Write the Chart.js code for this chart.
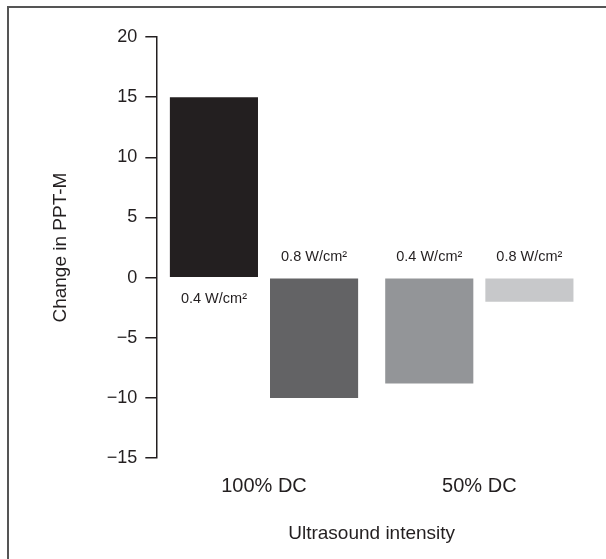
<!DOCTYPE html>
<html lang="en">
<head>
  <meta charset="UTF-8">
  <title>Change in PPT-M</title>
  <script src="https://cdn.jsdelivr.net/npm/chart.js"></script>
  <style>
    body { margin: 0; background: #fff; }
    #frame { position: absolute; left: 7px; top: 6px; width: 599px; height: 553px;
             border-left: 2px solid #555; border-top: 2px solid #555; box-sizing: border-box; }
    #chart { position: absolute; left: 0; top: 0; }
  </style>
</head>
<body>
  <div id="frame"></div>
  <canvas id="chart" width="606" height="559"></canvas>

  <script>
    // data
    const groups = ['100% DC', '50% DC'];
    const intensities = ['0.4 W/cm\u00b2', '0.8 W/cm\u00b2'];
    const low = [15, -8.8];     // 0.4 W/cm2
    const high = [-10, -2];     // 0.8 W/cm2
    const lowColors = ['#231f20', '#939598'];
    const highColors = ['#636365', '#c7c8ca'];
    const yTicks = [-15, -10, -5, 0, 5, 10, 15, 20];

    const ink = '#231f20';
    const font = "'Liberation Sans', Arial, sans-serif";

    // labels at the base of each bar, on the side away from the bar
    const barLabels = {
      id: 'barLabels',
      afterDatasetsDraw(chart) {
        const ctx = chart.ctx;
        ctx.save();
        ctx.font = '14.5px ' + font;
        ctx.fillStyle = ink;
        ctx.textAlign = 'center';
        ctx.textBaseline = 'middle';
        chart.data.datasets.forEach((ds, i) => {
          chart.getDatasetMeta(i).data.forEach((bar, j) => {
            const v = ds.data[j];
            const y = v >= 0 ? bar.base + 22 : bar.base - 21;
            ctx.fillText(ds.label, bar.x, y);
          });
        });
        ctx.restore();
      }
    };

    new Chart(document.getElementById('chart'), {
      type: 'bar',
      data: {
        labels: groups,
        datasets: [
          { label: intensities[0], data: low, backgroundColor: lowColors },
          { label: intensities[1], data: high, backgroundColor: highColors }
        ]
      },
      options: {
        responsive: false,
        animation: false,
        events: [],
        categoryPercentage: 0.93,
        barPercentage: 0.88,
        layout: { padding: { top: 37, right: 19, bottom: 14, left: 49 } },
        plugins: { legend: { display: false }, tooltip: { enabled: false } },
        scales: {
          x: {
            grid: { display: false, drawTicks: false },
            border: { display: false },
            ticks: { color: ink, font: { size: 20, family: font }, padding: 16 },
            title: {
              display: true, text: 'Ultrasound intensity', color: ink,
              font: { size: 19, family: font }, padding: { top: 8, bottom: 0 }
            }
          },
          y: {
            min: -15, max: 20,
            afterBuildTicks(scale) { scale.ticks = yTicks.map(v => ({ value: v })); },
            grid: { drawOnChartArea: false, tickLength: 11, color: ink, lineWidth: 1.5 },
            border: { display: true, color: ink, width: 1.5 },
            ticks: {
              color: ink, font: { size: 18, family: font }, padding: 8,
              callback: v => String(v).replace('-', '\u2212')
            },
            title: {
              display: true, text: 'Change in PPT-M', color: ink,
              font: { size: 19, family: font }, padding: { top: 0, bottom: 27 }
            }
          }
        }
      },
      plugins: [barLabels]
    });
  </script>
</body>
</html>
